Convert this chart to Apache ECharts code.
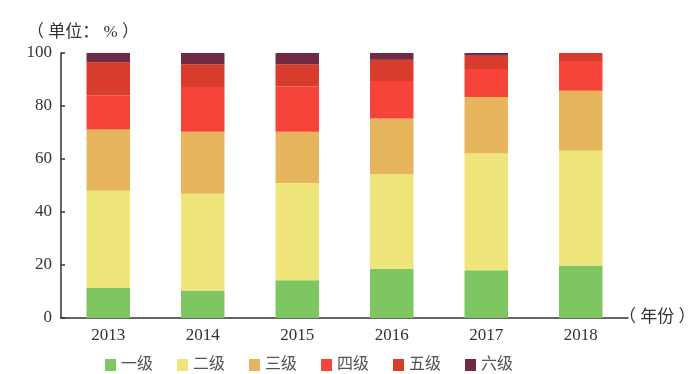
<!DOCTYPE html>
<html>
<head>
<meta charset="utf-8">
<script src="https://cdn.jsdelivr.net/npm/echarts@6/dist/echarts.min.js"></script>
<style>
html,body{margin:0;padding:0;background:#fff;}
#chart{width:696px;height:374px;}
</style>
</head>
<body>
<div id="chart"></div>
<script>
var years = ['2013', '2014', '2015', '2016', '2017', '2018'];
var seriesNames = ['一级', '二级', '三级', '四级', '五级', '六级'];
var level1 = [11.3, 10.4, 14.2, 18.5, 18.0, 19.8];
var level2 = [36.7, 36.5, 36.7, 35.7, 44.1, 43.3];
var level3 = [23.1, 23.4, 19.4, 21.1, 21.3, 22.7];
var level4 = [12.9, 16.9, 17.1, 14.1, 10.6, 11.2];
var level5 = [12.5, 8.6, 8.4, 8.1, 5.0, 3.0];
var level6 = [3.5, 4.2, 4.2, 2.5, 1.0, 0];
var yTicks = [0, 20, 40, 60, 80, 100];

var colors = ['#7ec662', '#eee67b', '#e7b55e', '#f6443a', '#d73c2c', '#6f2a45'];
var seriesData = [level1, level2, level3, level4, level5, level6];
var serif = '"Liberation Serif", "Times New Roman", "Noto Sans CJK SC", serif';

var chart = echarts.init(document.getElementById('chart'), null, {renderer: 'canvas'});
chart.setOption({
  animation: false,
  color: colors,
  title: {
    text: '（ 单位： % ）',
    left: 22,
    top: 19,
    textStyle: {fontFamily: serif, fontSize: 17, fontWeight: 'normal', color: '#333'}
  },
  legend: {
    data: seriesNames,
    left: 100,
    top: 352,
    icon: 'rect',
    itemWidth: 11,
    itemHeight: 12,
    itemGap: 24,
    textStyle: {fontFamily: serif, fontSize: 16, color: '#555'}
  },
  grid: {left: 61, right: 68, top: 53, bottom: 56, containLabel: false, outerBoundsMode: 'none'},
  xAxis: {
    type: 'category',
    data: years,
    name: '（ 年份 ）',
    nameLocation: 'end',
    nameGap: -9,
    nameTextStyle: {fontFamily: serif, fontSize: 17, color: '#333', align: 'left', verticalAlign: 'middle', padding: [34, 0, 0, 0]},
    axisLine: {lineStyle: {color: '#333', width: 1.5}},
    axisTick: {inside: true, length: 5, lineStyle: {color: '#333', width: 1.5}},
    axisLabel: {fontFamily: serif, fontSize: 17, color: '#333', margin: 9}
  },
  yAxis: {
    type: 'value',
    min: 0,
    max: 100,
    interval: 20,
    axisLine: {show: true, lineStyle: {color: '#333', width: 1.5}},
    axisTick: {show: true, inside: true, length: 4, lineStyle: {color: '#333', width: 1.5}},
    axisLabel: {fontFamily: serif, fontSize: 17, color: '#333', margin: 9,
      formatter: function (v) { return yTicks.indexOf(v) >= 0 ? String(v) : ''; }},
    splitLine: {show: false}
  },
  series: seriesNames.map(function (n, i) {
    return {
      name: n,
      type: 'bar',
      stack: 'total',
      barWidth: '46%',
      data: seriesData[i],
      itemStyle: {color: colors[i]}
    };
  })
});
</script>
</body>
</html>
